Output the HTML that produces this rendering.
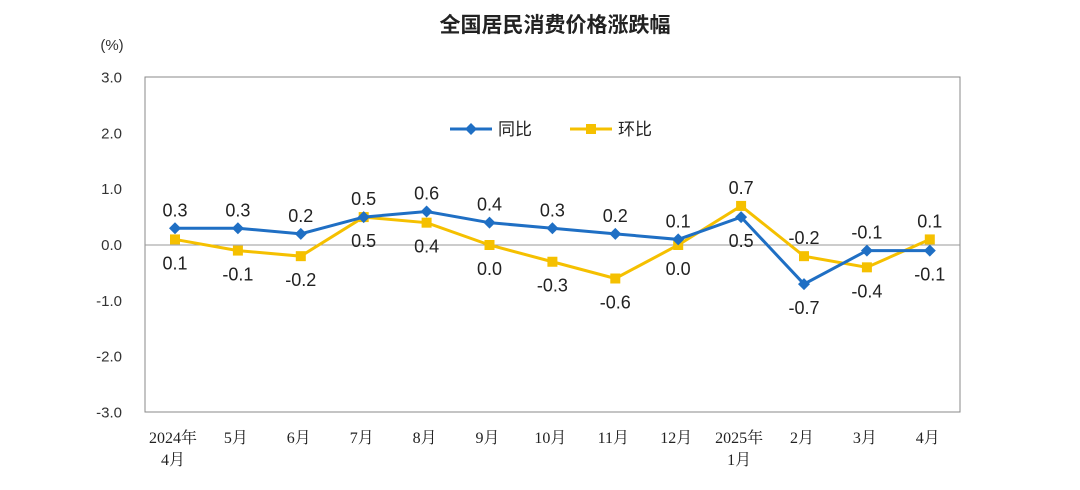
<!DOCTYPE html>
<html><head><meta charset="utf-8">
<style>
body{margin:0;background:#fff;}
svg{display:block;font-family:"Liberation Sans","Noto Sans CJK SC",sans-serif;}
</style></head>
<body>
<svg id="chart" width="1080" height="490" viewBox="0 0 1080 490">
<text x="555" y="32" text-anchor="middle" font-size="21" font-weight="bold" fill="#222">全国居民消费价格涨跌幅</text>
<text x="112" y="50" text-anchor="middle" font-size="15" fill="#333">(%)</text>
<rect x="145" y="77" width="815" height="335" fill="none" stroke="#888" stroke-width="1"/>
<g id="yaxis"></g><g id="xaxis"></g><g id="series"></g>
<g>
<line x1="450" y1="129" x2="492" y2="129" stroke="#1f6fc4" stroke-width="3"/>
<path d="M471 123 L477 129 L471 135 L465 129Z" fill="#1f6fc4"/>
<text x="498" y="135" font-size="17" fill="#222">同比</text>
<line x1="570" y1="129" x2="612" y2="129" stroke="#f5c000" stroke-width="3"/>
<rect x="586" y="124" width="10" height="10" fill="#f5c000"/>
<text x="618" y="135" font-size="17" fill="#222">环比</text>
</g>
</svg>
<script>
const categories=["2024年|4月","5月","6月","7月","8月","9月","10月","11月","12月","2025年|1月","2月","3月","4月"];
const yoy=[0.3,0.3,0.2,0.5,0.6,0.4,0.3,0.2,0.1,0.5,-0.7,-0.1,-0.1];
const mom=[0.1,-0.1,-0.2,0.5,0.4,0.0,-0.3,-0.6,0.0,0.7,-0.2,-0.4,0.1];
const yTicks=[3,2,1,0,-1,-2,-3];
const NS="http://www.w3.org/2000/svg";
const x=i=>175+i*62.9;
const y=v=>245-v*55.83;
function el(tag,attrs,parent,text){const e=document.createElementNS(NS,tag);for(const k in attrs)e.setAttribute(k,attrs[k]);if(text!==undefined)e.textContent=text;parent.appendChild(e);return e;}
const ya=document.getElementById('yaxis'),xa=document.getElementById('xaxis'),sg=document.getElementById('series');
yTicks.forEach(t=>{
 const tx=el('text',{x:122,y:y(t)+5,'text-anchor':'end','font-size':15,fill:'#333'},ya,t.toFixed(1));
 
 
});
const zl=el('line',{x1:145,x2:960,y1:y(0),y2:y(0),stroke:'#999','stroke-width':1},ya);


categories.forEach((c,i)=>{
 const parts=c.split('|');
 parts.forEach((p,j)=>{
  const t=el('text',{x:x(i)-2,y:443+j*22,'text-anchor':'middle','font-size':16,fill:'#222','font-family':'"Liberation Serif","Noto Serif CJK SC",serif'},xa,p);
  
  
 });
});
function drawSeries(vals,color,name,marker){
 const pts=vals.map((v,i)=>x(i)+','+y(v)).join(' ');
 const pl=el('polyline',{points:pts,fill:'none',stroke:color,'stroke-width':3},sg);
 
 
 vals.forEach((v,i)=>{
  let m;
  if(marker==='diamond') m=el('path',{d:`M${x(i)} ${y(v)-6} L${x(i)+6} ${y(v)} L${x(i)} ${y(v)+6} L${x(i)-6} ${y(v)}Z`,fill:color},sg);
  else m=el('rect',{x:x(i)-5,y:y(v)-5,width:10,height:10,fill:color},sg);
  
  
 });
}
drawSeries(mom,'#f5c000','mom','square');
drawSeries(yoy,'#1f6fc4','yoy','diamond');
yoy.forEach((v,i)=>{
 const up=v>=mom[i]||i===11;
 const ty=up?y(v)-12:y(v)+30;
 const t=el('text',{x:x(i),y:ty,'text-anchor':'middle','font-size':18,fill:'#222'},sg,v.toFixed(1));
 
 
});
mom.forEach((v,i)=>{
 const up=!(yoy[i]>=mom[i]||i===11);
 const ty=up?y(v)-12:y(v)+30;
 const t=el('text',{x:x(i),y:ty,'text-anchor':'middle','font-size':18,fill:'#222'},sg,v.toFixed(1));
 
 
});
</script>
</body></html>
